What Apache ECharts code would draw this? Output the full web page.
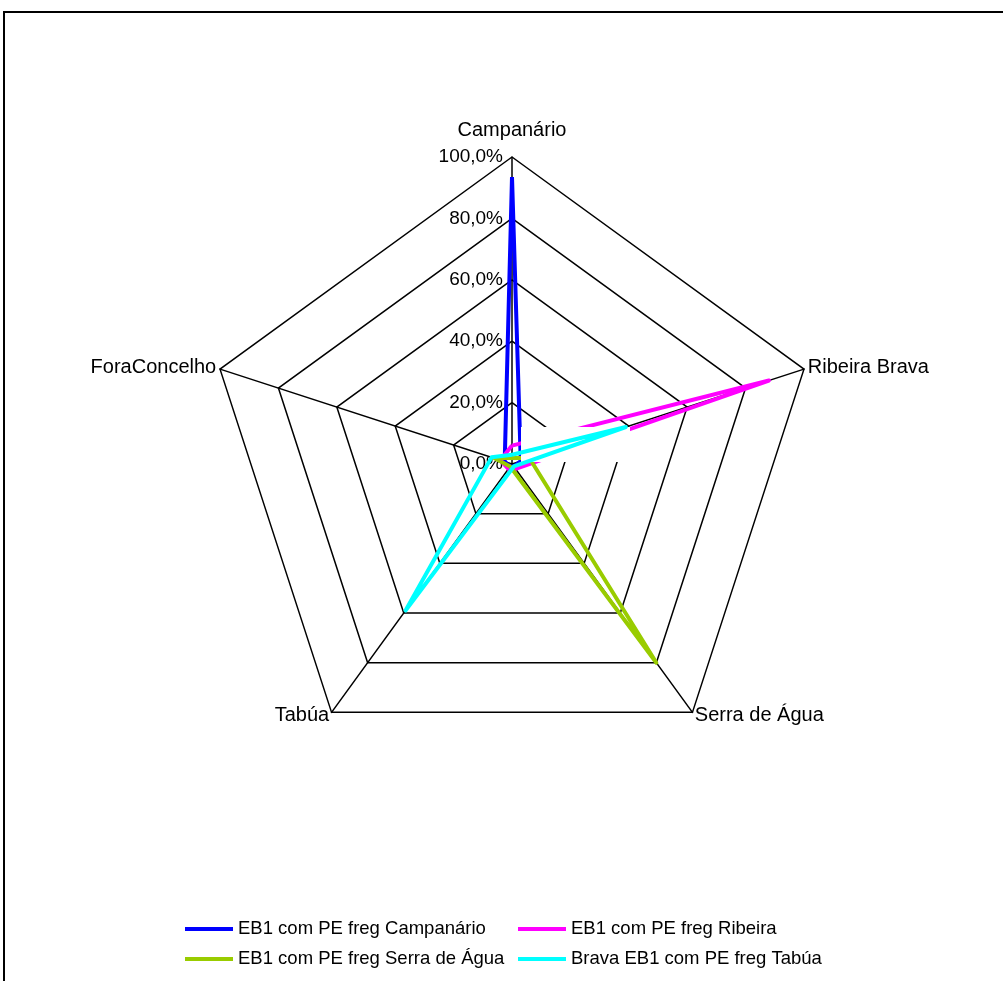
<!DOCTYPE html>
<html>
<head>
<meta charset="utf-8">
<script src="https://cdn.jsdelivr.net/npm/echarts@6/dist/echarts.min.js"></script>
<style>
html,body{margin:0;padding:0;background:#fff;}
#chart{width:1003px;height:981px;}
</style>
</head>
<body>
<div id="chart"></div>
<script>
// Categories (radar axes, clockwise from top)
var categories = ['Campanário', 'Ribeira Brava', 'Serra de Água', 'Tabúa', 'ForaConcelho'];
// Series names (as in the legend)
var seriesNames = ['EB1 com PE freg Campanário', 'EB1 com PE freg Ribeira', 'EB1 com PE freg Serra de Água', 'Brava EB1 com PE freg Tabúa'];
// Series values (fraction of 1 = 100%), in category order
var campanario = [0.935, 0.03, 0.01, 0.01, 0.025];
var ribeira    = [0.06, 0.88, 0.02, 0.02, 0.04];
var serra      = [0.02, 0.06, 0.80, 0.01, 0.06];
var tabua      = [0.03, 0.39, 0.01, 0.59, 0.07];
// Tick labels
var tickLabels = ['0,0%', '20,0%', '40,0%', '60,0%', '80,0%', '100,0%'];
var colors = ['#0000FF', '#FF00FF', '#99CC00', '#00FFFF'];

var font = '"Liberation Sans", Arial, sans-serif';
var chart = echarts.init(document.getElementById('chart'));

// ECharts lays radar axes counter-clockwise; reorder so they run clockwise
var order = [0, 4, 3, 2, 1];

var indicator = order.map(function (k, i) {
  return {
    name: categories[k], min: 0, max: 1,
    nameGap: i === 0 ? 17 : 4,
    axisLabel: {
      show: i === 0,
      color: '#000', fontSize: 19, fontFamily: font, margin: 9,
      formatter: function (v) { return tickLabels[Math.round(v * 5)]; }
    }
  };
});

var allData = [campanario, ribeira, serra, tabua];
var series = allData.map(function (d, i) {
  return {
    type: 'radar',
    name: seriesNames[i],
    z: i === 3 ? 5 : 2,
    symbol: 'none',
    lineStyle: { color: colors[i], width: 4 },
    itemStyle: { color: colors[i] },
    data: [{ value: order.map(function (k) { return d[k]; }), name: seriesNames[i] }]
  };
});

var legendCommon = {
  orient: 'vertical',
  icon: 'rect',
  itemWidth: 48,
  itemHeight: 4,
  itemGap: 10,
  selectedMode: false,
  textStyle: { color: '#000', fontSize: 18.5, fontFamily: font, lineHeight: 20 }
};

chart.setOption({
  backgroundColor: '#fff',
  animation: false,
  radar: {
    center: [512, 464],
    radius: 307,
    shape: 'polygon',
    splitNumber: 5,
    indicator: indicator,
    axisName: { color: '#000', fontSize: 20, fontFamily: font },
    splitLine: { lineStyle: { color: '#000', width: 1.5 } },
    splitArea: { show: false },
    axisLine: { lineStyle: { color: '#000', width: 1.5 } },
    axisTick: { show: false }
  },
  legend: [
    Object.assign({ left: 180, top: 914, data: [seriesNames[0], seriesNames[2]] }, legendCommon),
    Object.assign({ left: 513, top: 914, data: [seriesNames[1], seriesNames[3]] }, legendCommon)
  ],
  graphic: [
    { type: 'rect', silent: true, z: 0, shape: { x: 4, y: 12, width: 1100, height: 1100 },
      style: { fill: 'none', stroke: '#000', lineWidth: 2 } },
    { type: 'rect', silent: true, z: 3, shape: { x: 521, y: 427, width: 109, height: 35 },
      style: { fill: '#fff' } }
  ],
  series: series
});
</script>
</body>
</html>
